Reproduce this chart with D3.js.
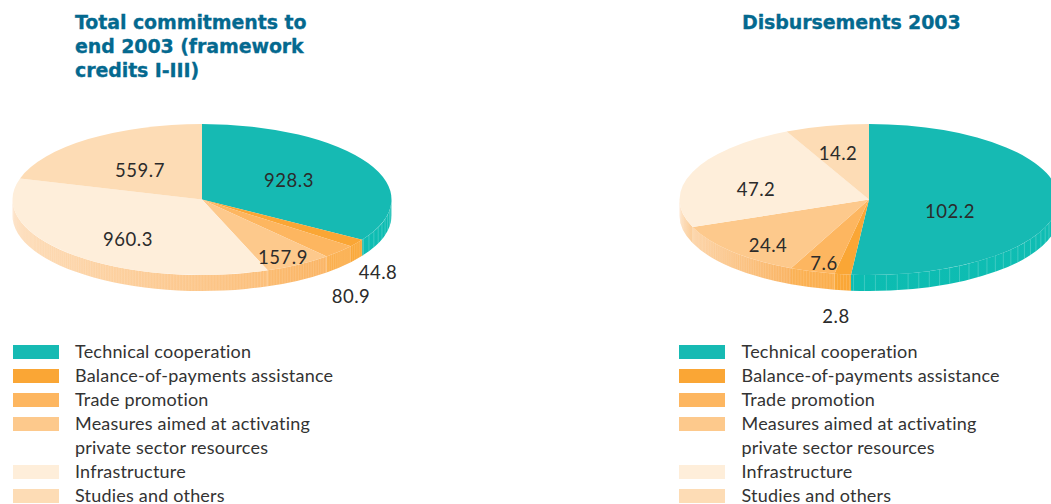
<!DOCTYPE html>
<html lang="en">
<head>
<meta charset="UTF-8">
<title>Commitments and disbursements 2003</title>
<script src="https://d3js.org/d3.v7.min.js"></script>
<style>
    html, body { margin: 0; padding: 0; background: #fff; overflow: hidden; }
    svg { display: block; }
    .title { font-family: "DejaVu Sans", sans-serif; font-weight: bold; font-size: 19px; letter-spacing: -0.1px; fill: #04698f; stroke: #04698f; stroke-width: 0.3px; }
    .value { font-family: Lato, sans-serif; font-size: 18.5px; fill: #2b2b2b; text-anchor: middle; letter-spacing: 0.5px; }
    .legend { font-family: Lato, sans-serif; font-size: 18px; fill: #333; letter-spacing: 0.2px; }
</style>
</head>
<body>
<div id="container"></div>
<script>
// data
const categories = ['Technical cooperation', 'Balance-of-payments assistance', 'Trade promotion',
    'Measures aimed at activating private sector resources', 'Infrastructure', 'Studies and others'];
const legendLines = [['Technical cooperation'], ['Balance-of-payments assistance'], ['Trade promotion'],
    ['Measures aimed at activating', 'private sector resources'], ['Infrastructure'], ['Studies and others']];
const commitments = [928.3, 44.8, 80.9, 157.9, 960.3, 559.7];
const disbursements = [102.2, 2.8, 7.6, 24.4, 47.2, 14.2];
const titleLeft = ['Total commitments to', 'end 2003 (framework', 'credits I-III)'];
const titleRight = ['Disbursements 2003'];

// colours per category
const topColors = ['#16bab3', '#faa635', '#fdb660', '#fdc98c', '#feeeda', '#fddcb5'];
const wallLeftPie = [['#0fbdb3', '#0cbcb1'], ['#faa838', '#faa636'], ['#fbb050', '#fbae4c'],
    ['#fbbb70', '#fbb565'], ['#fddcb8', '#fcbf7a'], ['#fddcb5', '#fddcb5']];
const wallRightPie = [['#0cbcb1', '#0fbdb3'], ['#faa838', '#faa636'], ['#fbb256', '#fbae4c'],
    ['#fcd2a4', '#fab463'], ['#fddcb8', '#fbc78b'], ['#fddcb5', '#fddcb5']];

// layout
const rx = 189.5, ry = 75.5, depth = 16;
const pies = [
    { cx: 202, cy: 199.5, values: commitments, walls: wallLeftPie,
      spots: [[289, 180], [378, 272], [351, 296], [283, 257], [128, 239], [140, 170]] },
    { cx: 869, cy: 199.5, values: disbursements, walls: wallRightPie,
      spots: [[950, 211], [836, 316], [824, 263], [768, 245], [756, 189], [838, 153]] }
];

const svg = d3.select('#container').append('svg').attr('width', 1051).attr('height', 504);
const defs = svg.append('defs');
const color = d3.scaleOrdinal().domain(categories).range(topColors);
const pie = d3.pie().sort(null).startAngle(0).endAngle(2 * Math.PI);
const arc = d3.arc().innerRadius(0).outerRadius(rx);

pies.forEach(function(p, pi) {
    const g = svg.append('g');
    const slices = pie(p.values);
    const px = a => p.cx + rx * Math.sin(a);
    const py = a => p.cy - ry * Math.cos(a);

    // side wall: only the part of each slice on the front half
    slices.forEach(function(s, i) {
        const a0 = Math.max(s.startAngle, Math.PI / 2);
        const a1 = Math.min(s.endAngle, Math.PI * 1.5);
        if (a1 <= a0) return;

        const gradId = 'wall' + pi + '-' + i;
        const grad = defs.append('linearGradient').attr('id', gradId)
            .attr('gradientUnits', 'userSpaceOnUse')
            .attr('x1', Math.min(px(a0), px(a1))).attr('x2', Math.max(px(a0), px(a1)))
            .attr('y1', 0).attr('y2', 0);
        grad.append('stop').attr('offset', 0).attr('stop-color', p.walls[i][0]);
        grad.append('stop').attr('offset', 1).attr('stop-color', p.walls[i][1]);

        g.append('path')
            .attr('d', `M${px(a0)},${py(a0)} A${rx},${ry} 0 0 1 ${px(a1)},${py(a1)}` +
                ` L${px(a1)},${py(a1) + depth} A${rx},${ry} 0 0 0 ${px(a0)},${py(a0) + depth} Z`)
            .attr('fill', `url(#${gradId})`);

        // thin facets on the wall, wide apart on the teal slice, fine on the orange ones
        const step = i === 0 ? 0.058 : 0.016;
        const alpha = i === 0 ? 0.3 : 0.2;
        d3.range(a0 + step / 2, a1, step).forEach(function(a) {
            g.append('line')
                .attr('x1', px(a)).attr('x2', px(a))
                .attr('y1', py(a)).attr('y2', py(a) + depth)
                .attr('stroke', '#fff').attr('stroke-opacity', alpha).attr('stroke-width', 0.7);
        });
    });

    // top face
    g.append('g')
        .attr('transform', `translate(${p.cx},${p.cy}) scale(1,${ry / rx})`)
        .selectAll('path')
        .data(slices)
        .enter()
        .append('path')
        .attr('d', arc)
        .attr('fill', (d, i) => color(categories[i]));

    // value labels
    g.selectAll('text.value')
        .data(p.values)
        .enter()
        .append('text')
        .attr('class', 'value')
        .attr('x', (d, i) => p.spots[i][0])
        .attr('y', (d, i) => p.spots[i][1] + 6.5)
        .text(d => d.toFixed(1));
});

// titles
titleLeft.forEach(function(t, i) {
    svg.append('text').attr('class', 'title').attr('x', 75).attr('y', 29 + i * 24).text(t);
});
titleRight.forEach(function(t, i) {
    svg.append('text').attr('class', 'title').attr('x', 742).attr('y', 29 + i * 24).text(t);
});

// legends
[{ sx: 13, tx: 75 }, { sx: 679, tx: 741.5 }].forEach(function(l) {
    let row = 0;
    categories.forEach(function(c, i) {
        svg.append('rect').attr('x', l.sx).attr('y', 345 + row * 24).attr('width', 46).attr('height', 14)
            .attr('fill', color(c));
        legendLines[i].forEach(function(line) {
            svg.append('text').attr('class', 'legend').attr('x', l.tx).attr('y', 345 + row * 24 + 13).text(line);
            row++;
        });
    });
});
</script>
</body>
</html>
